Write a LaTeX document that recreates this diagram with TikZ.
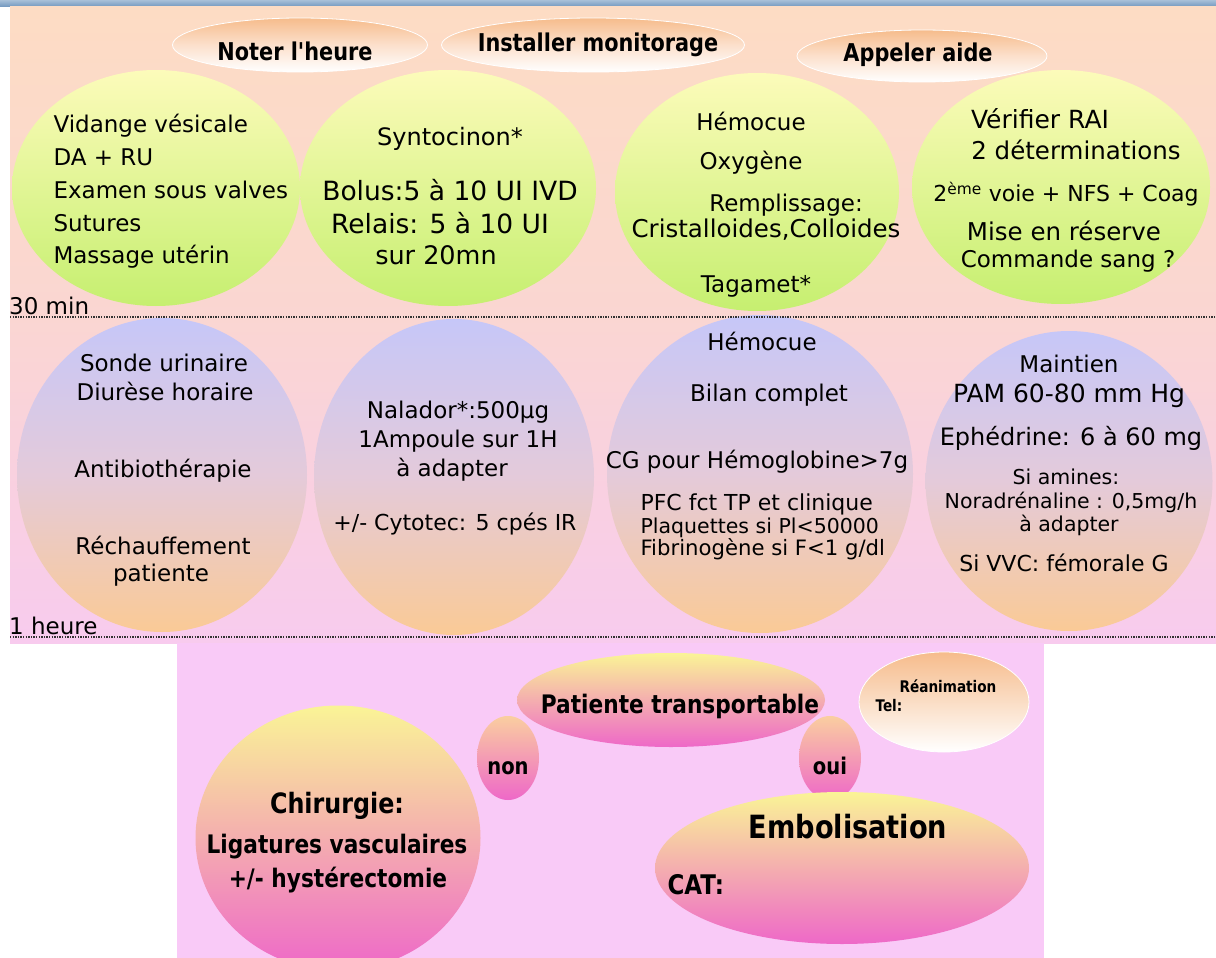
\documentclass[tikz,border=0pt]{standalone}
\usepackage{fontspec}
\setmainfont{DejaVu Sans}
\newfontfamily\etroite[FakeStretch=0.85]{DejaVu Sans}
\usetikzlibrary{shapes.geometric}

\definecolor{barreA}{RGB}{168,192,216}
\definecolor{barreB}{RGB}{112,150,190}
\definecolor{fondA}{RGB}{253,220,196}
\definecolor{fondB}{RGB}{250,214,210}
\definecolor{fondC}{RGB}{248,203,238}
\definecolor{fondD}{RGB}{249,202,247}
\definecolor{jaune}{RGB}{252,251,186}
\definecolor{citron}{RGB}{198,239,112}
\definecolor{lilas}{RGB}{198,199,248}
\definecolor{lilasmid}{RGB}{228,202,218}
\definecolor{abricot}{RGB}{250,202,150}
\definecolor{peche}{RGB}{246,188,140}
\definecolor{pechemid}{RGB}{252,224,204}
\definecolor{soleil}{RGB}{250,244,150}
\definecolor{fuchsia}{RGB}{238,104,200}
\definecolor{saumon}{RGB}{250,206,160}

\tikzset{
  bulle/.style={ellipse, inner sep=0pt, draw=white, line width=0.8pt},
  tete/.style={bulle, top color=peche, bottom color=white, middle color=pechemid},
  vert/.style={bulle, draw=none, top color=jaune, bottom color=citron},
  mauve/.style={bulle, draw=none, top color=lilas, bottom color=abricot, middle color=lilasmid},
  rose/.style={bulle, draw=none, top color=soleil, bottom color=fuchsia},
  petale/.style={bulle, draw=none, top color=saumon, bottom color=fuchsia},
  reani/.style={bulle, top color=peche, bottom color=white},
  texte/.style={anchor=mid, yshift=-6pt, font=\fontsize{23}{28}\selectfont},
  petit/.style={anchor=mid, yshift=-6pt, font=\fontsize{20.5}{24}\selectfont},
  titre/.style={anchor=mid, yshift=-6pt, font=\etroite\bfseries\fontsize{24.5}{30}\selectfont},
  bas/.style={anchor=mid, yshift=-6pt, font=\etroite\bfseries\fontsize{25.5}{30}\selectfont},
  repere/.style={anchor=base west, inner sep=0pt, font=\fontsize{23}{28}\selectfont},
  pointille/.style={line width=1.3pt, black!80, dash pattern=on 1.3pt off 1.3pt}
}

\begin{document}
\begin{tikzpicture}[x=1pt,y=-1pt]
\useasboundingbox (0,0) rectangle (1216,958);

% fonds
\fill[white] (0,0) rectangle (1216,958);
\shade[top color=barreA, bottom color=barreB] (0,0) rectangle (1216,7);
\shade[top color=fondA, bottom color=fondB] (10,7) rectangle (1216,317);
\shade[top color=fondB, bottom color=fondC] (10,317) rectangle (1216,643);
\fill[fondD] (177,643) rectangle (1044,958);

% actions immediates
\node[tete, minimum width=255, minimum height=54] (noter) at (300,45) {};
\node[tete, minimum width=303, minimum height=54] (monitorage) at (593,45) {};
\node[tete, minimum width=250, minimum height=52] (aide) at (922,56) {};
\node[titre] (noterT) at (295,52) {Noter l'heure};
\node[titre] (monitorageT) at (598,43) {Installer monitorage};
\node[titre] (aideT) at (918,53) {Appeler aide};

% 0 - 30 min
\node[vert, minimum width=288, minimum height=236] (vidange) at (156,188) {};
\node[vert, minimum width=296, minimum height=236] (synto) at (448,188) {};
\node[vert, minimum width=284, minimum height=238] (hemo) at (757,192) {};
\node[vert, minimum width=298, minimum height=234] (rai) at (1061,187) {};

\node[texte, anchor=mid west] (vidange1) at (50,124) {Vidange vésicale};
\node[texte, anchor=mid west] (vidange2) at (50,157) {DA + RU};
\node[texte, anchor=mid west] (vidange3) at (50,190) {Examen sous valves};
\node[texte, anchor=mid west] (vidange4) at (50,223) {Sutures};
\node[texte, anchor=mid west] (vidange5) at (50,255) {Massage utérin};

\node[texte, font=\fontsize{24}{28}\selectfont] (synto1) at (450,137) {Syntocinon*};
\node[texte, font=\fontsize{26.5}{30}\selectfont] (synto2) at (450,192) {Bolus:5 à 10 UI IVD};
\node[texte, font=\fontsize{26.5}{30}\selectfont] (synto3) at (440,225) {Relais: 5 à 10 UI};
\node[texte, font=\fontsize{25.5}{30}\selectfont] (synto4) at (436,256) {sur 20mn};

\node[texte] (hemo1) at (751,122) {Hémocue};
\node[texte] (hemo2) at (751,161) {Oxygène};
\node[texte] (hemo3) at (786,203) {Remplissage:};
\node[texte, font=\fontsize{24.5}{28}\selectfont] (hemo4) at (766,229) {Cristalloides,Colloides};
\node[texte] (hemo5) at (756,284) {Tagamet*};

\node[texte, font=\fontsize{25}{28}\selectfont] (rai1) at (1040,120) {Vérifier RAI};
\node[texte, font=\fontsize{24.5}{28}\selectfont] (rai2) at (1076,151) {2 déterminations};
\node[petit, font=\fontsize{22}{26}\selectfont] (rai3) at (1066,193) {2\textsuperscript{ème} voie + NFS + Coag};
\node[texte, font=\fontsize{24.5}{28}\selectfont] (rai4) at (1064,232) {Mise en réserve};
\node[texte] (rai5) at (1068,259) {Commande sang ?};

% 30 min - 1 heure
\node[mauve, minimum width=290, minimum height=314] (sonde) at (162,475) {};
\node[mauve, minimum width=280, minimum height=316] (nalador) at (454,477) {};
\node[mauve, minimum width=306, minimum height=318] (bilan) at (760,474) {};
\node[mauve, minimum width=287, minimum height=300] (maintien) at (1069,481) {};

\node[texte] (sonde1) at (164,363) {Sonde urinaire};
\node[texte] (sonde2) at (165,392) {Diurèse horaire};
\node[texte] (sonde3) at (163,469) {Antibiothérapie};
\node[texte] (sonde4) at (163,546) {Réchauffement};
\node[texte] (sonde5) at (161,573) {patiente};

\node[texte] (nalador1) at (458,410) {Nalador*:500µg};
\node[texte] (nalador2) at (458,439) {1Ampoule sur 1H};
\node[texte] (nalador3) at (452,468) {à adapter};
\node[petit, font=\fontsize{22}{26}\selectfont] (nalador4) at (455,522) {+/- Cytotec: 5 cpés IR};

\node[texte] (bilan1) at (762,342) {Hémocue};
\node[texte] (bilan2) at (769,393) {Bilan complet};
\node[texte] (bilan3) at (757,460) {CG pour Hémoglobine>7g};
\node[petit, anchor=mid west, font=\fontsize{22}{26}\selectfont] (bilan4) at (637,502) {PFC fct TP et clinique};
\node[petit, anchor=mid west] (bilan5) at (637,525) {Plaquettes si Pl<50000};
\node[petit, anchor=mid west, font=\fontsize{21.2}{26}\selectfont] (bilan6) at (637,547) {Fibrinogène si F<1 g/dl};

\node[texte] (maintien1) at (1069,364) {Maintien};
\node[texte, font=\fontsize{25}{28}\selectfont] (maintien2) at (1069,394) {PAM 60-80 mm Hg};
\node[texte, font=\fontsize{24}{28}\selectfont] (maintien3) at (1071,437) {Ephédrine: 6 à 60 mg};
\node[petit] (maintien4) at (1066,476) {Si amines:};
\node[petit] (maintien5) at (1071,500) {Noradrénaline : 0,5mg/h};
\node[petit] (maintien6) at (1069,523) {à adapter};
\node[petit, font=\fontsize{22}{26}\selectfont] (maintien7) at (1064,563) {Si VVC: fémorale G};

% reperes de temps
\draw[pointille] (10,317) -- (1216,317);
\draw[pointille] (10,637) -- (1216,637);
\node[repere] (t30) at (9,314) {30 min};
\node[repere] (t1h) at (9,634) {1 heure};

% apres 1 heure
\node[rose, minimum width=308, minimum height=94] (transport) at (671,700) {};
\node[reani, minimum width=170, minimum height=100] (reanim) at (944,702) {};
\node[petale, minimum width=62, minimum height=84] (non) at (508,758) {};
\node[petale, minimum width=62, minimum height=84] (oui) at (830,758) {};
\node[rose, minimum width=285, minimum height=265] (chir) at (338,838) {};
\node[rose, minimum width=374, minimum height=152] (embol) at (842,868) {};

\node[bas] (transportT) at (680,705) {Patiente transportable};
\node[bas, font=\etroite\bfseries\fontsize{16}{20}\selectfont] (reanimT) at (948,684) {Réanimation};
\node[bas, anchor=mid west, font=\etroite\bfseries\fontsize{16}{20}\selectfont] (telT) at (872,703) {Tel:};
\node[bas, font=\etroite\bfseries\fontsize{23}{28}\selectfont] (nonT) at (508,766) {non};
\node[bas, font=\etroite\bfseries\fontsize{23}{28}\selectfont] (ouiT) at (830,766) {oui};
\node[bas, font=\etroite\bfseries\fontsize{28}{32}\selectfont] (chir1) at (337,805) {Chirurgie:};
\node[bas] (chir2) at (337,845) {Ligatures vasculaires};
\node[bas] (chir3) at (338,879) {+/- hystérectomie};
\node[bas, font=\etroite\bfseries\fontsize{32}{36}\selectfont] (embolT) at (848,830) {Embolisation};
\node[bas, anchor=mid west, font=\etroite\bfseries\fontsize{27}{30}\selectfont] (catT) at (664,886) {CAT:};
\end{tikzpicture}
\end{document}
